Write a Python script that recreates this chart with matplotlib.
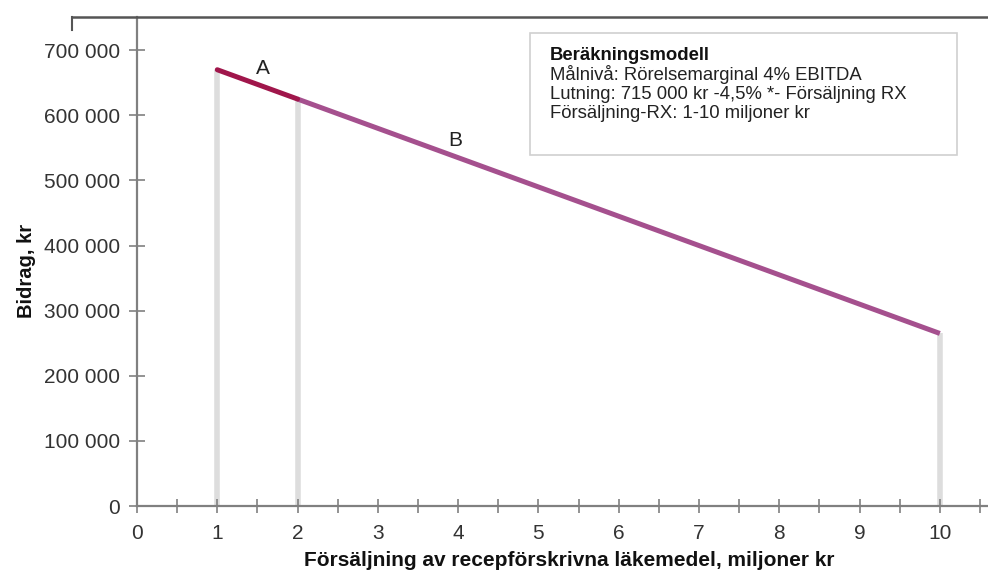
import matplotlib
matplotlib.use("Agg")
import matplotlib.pyplot as plt
from matplotlib.lines import Line2D

# Data: contribution (kr) by prescription sales (million kr)
seg_a_x = [1, 2]
seg_a_y = [670000, 625000]
seg_b_x = [2, 10]
seg_b_y = [625000, 265000]
drop_x = [1, 2, 10]
drop_y = [670000, 625000, 265000]

x_ticks = list(range(0, 11))
y_ticks = [0, 100000, 200000, 300000, 400000, 500000, 600000, 700000]
y_labels = ["0", "100 000", "200 000", "300 000", "400 000", "500 000", "600 000", "700 000"]

plt.rcParams["font.family"] = ["Liberation Sans", "DejaVu Sans"]

fig = plt.figure(figsize=(9.88, 5.72), dpi=100)
ax = fig.add_axes([137 / 988, 1 - 506 / 572, (988 - 137) / 988, (506 - 17) / 572])

grey = "#808080"
for x, y in zip(drop_x, drop_y):
    ax.plot([x, x], [0, y], color="#dddddd", lw=4, solid_capstyle="butt", zorder=1)
ax.plot(seg_b_x, seg_b_y, color="#a5508e", lw=3.6, solid_capstyle="butt", zorder=2)
ax.plot(seg_a_x, seg_a_y, color="#a0164b", lw=3.6, solid_capstyle="round", zorder=3)

ax.text(1.57, 672000, "A", fontsize=15, ha="center", va="center", color="#222222")
ax.text(3.96, 561000, "B", fontsize=15, ha="center", va="center", color="#222222")

ax.set_xlim(0, 10.6)
ax.set_ylim(0, 751000)
ax.set_xticks(x_ticks)
ax.set_xticks([i + 0.5 for i in range(0, 11)], minor=True)
ax.set_yticks(y_ticks)
ax.set_yticklabels(y_labels)
ax.tick_params(axis="both", which="both", direction="inout", color=grey, width=1.2,
               labelsize=15, labelcolor="#333333")
ax.tick_params(axis="x", which="both", length=10, pad=8)
ax.tick_params(axis="y", length=12, pad=6)

for s in ("top", "right"):
    ax.spines[s].set_visible(False)
for s in ("left", "bottom"):
    ax.spines[s].set_color(grey)
    ax.spines[s].set_linewidth(1.6)

ax.set_xlabel("Försäljning av recepförskrivna läkemedel, miljoner kr",
              fontsize=15, fontweight="bold", labelpad=6, color="#111111")
ax.set_ylabel("Bidrag, kr", fontsize=14.5, fontweight="bold", labelpad=6, color="#111111")
ax.xaxis.label.set_position((0.508, 0))
ax.yaxis.label.set_position((0, 0.48))

# frame line at the top of the chart
fig.add_artist(Line2D([72 / 988, 1], [1 - 17 / 572, 1 - 17 / 572], color="#555555", lw=1.8))
fig.add_artist(Line2D([72 / 988, 72 / 988], [1 - 17 / 572, 1 - 30 / 572], color="#555555", lw=1.5))

# model box
box = plt.Rectangle((530 / 988, 1 - 155 / 572), 427 / 988, 122 / 572, transform=fig.transFigure,
                    facecolor="white", edgecolor="#d0d0d0", lw=1.2, zorder=5)
fig.add_artist(box)
fig.text(550 / 988, 1 - 56 / 572, "Beräkningsmodell", fontsize=13.3, fontweight="bold",
         va="center", color="#111111", zorder=6)
lines = ["Målnivå: Rörelsemarginal 4% EBITDA",
         "Lutning: 715 000 kr -4,5% *- Försäljning RX",
         "Försäljning-RX: 1-10 miljoner kr"]
for i, t in enumerate(lines):
    fig.text(550 / 988, 1 - (75 + 19.4 * i) / 572, t, fontsize=13.3, va="center",
             color="#222222", zorder=6)

fig.savefig("out.png", dpi=100)
